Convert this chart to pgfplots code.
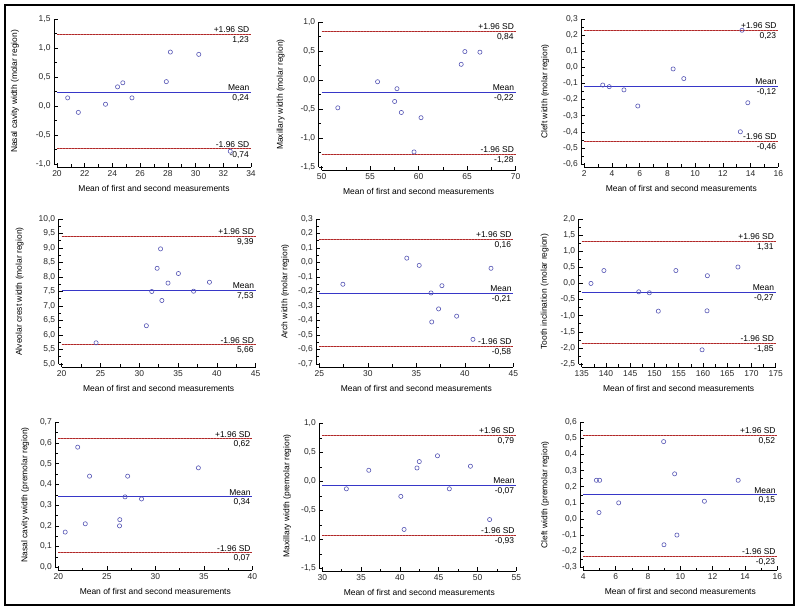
\documentclass[border=0pt]{standalone}
\usepackage{pgfplots}
\pgfplotsset{compat=1.18}
\usepackage{fontspec}
\setmainfont{Liberation Sans}
\definecolor{meanc}{RGB}{55,55,200}
\definecolor{sdc}{RGB}{175,40,40}
\definecolor{sdl2}{RGB}{205,95,95}
\definecolor{ptc}{RGB}{85,85,180}
\pgfplotsset{
  ba/.style={
    scale only axis, width=194bp, height=145bp,
    axis x line*=bottom, axis y line*=left,
    x axis line style={-}, y axis line style={-},
    axis line style={line width=0.6bp, black},
    axis x line shift=3bp, axis y line shift=3bp,
    tick align=inside, tick style={line width=0.5bp, black},
    major tick length=4bp, minor tick length=2.5bp,
    minor x tick num=1, minor y tick num=1,
    font=\fontsize{8.5}{10}\selectfont,
    tick label style={font=\fontsize{8.5}{10}\selectfont, text=black!85},
    /pgf/number format/assume math mode=true,
    yticklabel style={/pgf/number format/.cd, fixed, fixed zerofill, precision=1, use comma},
    xticklabel style={/pgf/number format/.cd, fixed, precision=0},
    xlabel={Mean of first and second measurements},
    every axis x label/.style={at={(rel axis cs:0.5,0)}, anchor=center, yshift=-24bp},
    clip=false,
  },
  yl/.style={every axis y label/.style={at={(rel axis cs:0,0.5)}, rotate=90, anchor=center, yshift=#1}},
  pts/.style={only marks, mark=o, mark size=2.1bp, mark options={ptc, line width=0.6bp, solid}},
  meanl/.style={meanc, line width=0.8bp, no marks},
  sdlb/.style={sdl2, line width=1bp, no marks},
  sdl/.style={sdc, line width=1bp, dash pattern=on 1.8bp off 1.2bp, no marks},
}
\newcommand{\balabels}[4]{% xmax, upper, mean, lower
  \node[anchor=south east, inner sep=1.5bp] at (axis cs:#1,#2) {+1.96 SD};
  \node[anchor=north east, inner sep=2bp] at (axis cs:#1,#2) {\pgfmathprintnumber[fixed,fixed zerofill,precision=2,use comma]{#2}};
  \node[anchor=south east, inner sep=1.5bp] at (axis cs:#1,#3) {Mean};
  \node[anchor=north east, inner sep=2bp] at (axis cs:#1,#3) {\pgfmathprintnumber[fixed,fixed zerofill,precision=2,use comma]{#3}};
  \node[anchor=south east, inner sep=1.5bp] at (axis cs:#1,#4) {-1.96 SD};
  \node[anchor=north east, inner sep=2bp] at (axis cs:#1,#4) {\pgfmathprintnumber[fixed,fixed zerofill,precision=2,use comma]{#4}};
}
\newcommand{\balines}[5]{% xmin, xmax, upper, mean, lower
  \addplot[sdlb] coordinates {(#1,#3) (#2,#3)};
  \addplot[sdl] coordinates {(#1,#3) (#2,#3)};
  \addplot[meanl] coordinates {(#1,#4) (#2,#4)};
  \addplot[sdlb] coordinates {(#1,#5) (#2,#5)};
  \addplot[sdl] coordinates {(#1,#5) (#2,#5)};
}
\begin{document}
\begin{tikzpicture}
\path[use as bounding box] (0bp,0bp) rectangle (800bp,611bp);
\draw[line width=1.8bp, black] (5bp,6bp) rectangle (794bp,606bp);
% ---------- Row 1 ----------
\begin{axis}[ba, at={(57bp,592bp)}, anchor=north west,
  xmin=20, xmax=34, ymin=-1, ymax=1.5,
  xtick={20,22,...,34}, ytick={-1,-0.5,0,0.5,1,1.5},
  ylabel={Nasal cavity width (molar region)}, yl=42bp]
\balines{20}{34}{1.23}{0.24}{-0.74}
\addplot[pts] coordinates {(20.77,0.14) (21.54,-0.11) (23.50,0.03) (24.37,0.33) (24.75,0.40) (25.41,0.14) (27.89,0.42) (28.18,0.93) (30.23,0.89) (32.50,-0.78)};
\balabels{34}{1.23}{0.24}{-0.74}
\end{axis}
\begin{axis}[ba, at={(321.7bp,589bp)}, anchor=north west,
  xmin=50, xmax=70, ymin=-1.5, ymax=1.0,
  xtick={50,55,...,70}, ytick={-1.5,-1,-0.5,0,0.5,1},
  ylabel={Maxillary width (molar region)}, yl=41bp]
\balines{50}{70}{0.84}{-0.22}{-1.28}
\addplot[pts] coordinates {(51.66,-0.48) (55.76,-0.03) (57.76,-0.15) (57.52,-0.37) (58.21,-0.56) (60.24,-0.65) (59.52,-1.24) (64.38,0.27) (64.76,0.49) (66.31,0.48)};
\balabels{70}{0.84}{-0.22}{-1.28}
\end{axis}
\begin{axis}[ba, at={(584.3bp,592bp)}, anchor=north west,
  xmin=2, xmax=16, ymin=-0.6, ymax=0.3,
  xtick={2,4,...,16}, ytick={-0.6,-0.5,-0.4,-0.3,-0.2,-0.1,0,0.1,0.2,0.3},
  ylabel={Cleft width (molar region)}, yl=39bp]
\balines{2}{16}{0.23}{-0.12}{-0.46}
\addplot[pts] coordinates {(3.33,-0.11) (3.80,-0.12) (4.86,-0.14) (5.86,-0.24) (8.41,-0.01) (9.18,-0.07) (13.38,0.23) (13.26,-0.40) (13.80,-0.22)};
\balabels{16}{0.23}{-0.12}{-0.46}
\end{axis}
% ---------- Row 2 ----------
\begin{axis}[ba, at={(61.7bp,392bp)}, anchor=north west,
  xmin=20, xmax=45, ymin=5, ymax=10,
  xtick={20,25,...,45}, ytick={5,5.5,6,6.5,7,7.5,8,8.5,9,9.5,10},
  ylabel={Alveolar crest width (molar region)}, yl=42bp]
\balines{20}{45}{9.39}{7.53}{5.66}
\addplot[pts] coordinates {(24.43,5.73) (30.91,6.32) (31.61,7.50) (32.30,8.30) (32.74,8.97) (32.91,7.19) (33.70,7.79) (35.04,8.12) (37.00,7.51) (39.04,7.82)};
\balabels{45}{9.39}{7.53}{5.66}
\end{axis}
\begin{axis}[ba, at={(319.3bp,392bp)}, anchor=north west,
  xmin=25, xmax=45, ymin=-0.7, ymax=0.3,
  xtick={25,30,...,45}, ytick={-0.7,-0.6,-0.5,-0.4,-0.3,-0.2,-0.1,0,0.1,0.2,0.3},
  ylabel={Arch width (molar region)}, yl=34bp]
\balines{25}{45}{0.16}{-0.21}{-0.58}
\addplot[pts] coordinates {(27.43,-0.15) (34.02,0.03) (35.30,-0.02) (36.52,-0.21) (37.64,-0.16) (37.30,-0.32) (36.59,-0.41) (39.16,-0.37) (40.84,-0.53) (42.70,-0.04)};
\balabels{45}{0.16}{-0.21}{-0.58}
\end{axis}
\begin{axis}[ba, at={(581.7bp,392bp)}, anchor=north west,
  xmin=135, xmax=175, ymin=-2.5, ymax=2,
  xtick={135,140,...,175}, ytick={-2.5,-2,-1.5,-1,-0.5,0,0.5,1,1.5,2},
  ylabel={Tooth inclination (molar region)}, yl=37bp]
\balines{135}{175}{1.31}{-0.27}{-1.85}
\addplot[pts] coordinates {(136.91,0.00) (139.58,0.40) (146.76,-0.26) (148.95,-0.29) (150.79,-0.86) (154.42,0.40) (160.91,0.24) (160.84,-0.85) (159.82,-2.06) (167.21,0.51)};
\balabels{175}{1.31}{-0.27}{-1.85}
\end{axis}
% ---------- Row 3 ----------
\begin{axis}[ba, at={(58.3bp,188.7bp)}, anchor=north west,
  xmin=20, xmax=40, ymin=0, ymax=0.7,
  xtick={20,25,...,40}, ytick={0,0.1,0.2,0.3,0.4,0.5,0.6,0.7},
  ylabel={Nasal cavity width (premolar region)}, yl=33bp]
\balines{20}{40}{0.62}{0.34}{0.07}
\addplot[pts] coordinates {(20.71,0.17) (22.00,0.58) (22.78,0.21) (23.22,0.44) (26.34,0.23) (26.31,0.20) (26.88,0.34) (27.15,0.44) (28.58,0.33) (34.44,0.48)};
\balabels{40}{0.62}{0.34}{0.07}
\end{axis}
\begin{axis}[ba, at={(322.3bp,187.7bp)}, anchor=north west,
  xmin=30, xmax=55, ymin=-1.5, ymax=1,
  xtick={30,35,...,55}, ytick={-1.5,-1,-0.5,0,0.5,1},
  ylabel={Maxillary width (premolar region)}, yl=35bp]
\balines{30}{55}{0.79}{-0.07}{-0.93}
\addplot[pts] coordinates {(33.10,-0.13) (35.99,0.19) (40.12,-0.26) (40.54,-0.83) (42.20,0.23) (42.50,0.34) (44.84,0.44) (46.37,-0.13) (49.09,0.26) (51.56,-0.66)};
\balabels{55}{0.79}{-0.07}{-0.93}
\end{axis}
\begin{axis}[ba, at={(583.3bp,188.7bp)}, anchor=north west,
  xmin=4, xmax=16, ymin=-0.3, ymax=0.6,
  xtick={4,6,...,16}, ytick={-0.3,-0.2,-0.1,0,0.1,0.2,0.3,0.4,0.5,0.6},
  ylabel={Cleft width (premolar region)}, yl=38bp]
\balines{4}{16}{0.52}{0.15}{-0.23}
\addplot[pts] coordinates {(4.81,0.24) (5.01,0.24) (4.97,0.04) (6.19,0.10) (8.97,0.48) (8.99,-0.16) (9.65,0.28) (9.79,-0.10) (11.49,0.11) (13.58,0.24)};
\balabels{16}{0.52}{0.15}{-0.23}
\end{axis}
\end{tikzpicture}
\end{document}
